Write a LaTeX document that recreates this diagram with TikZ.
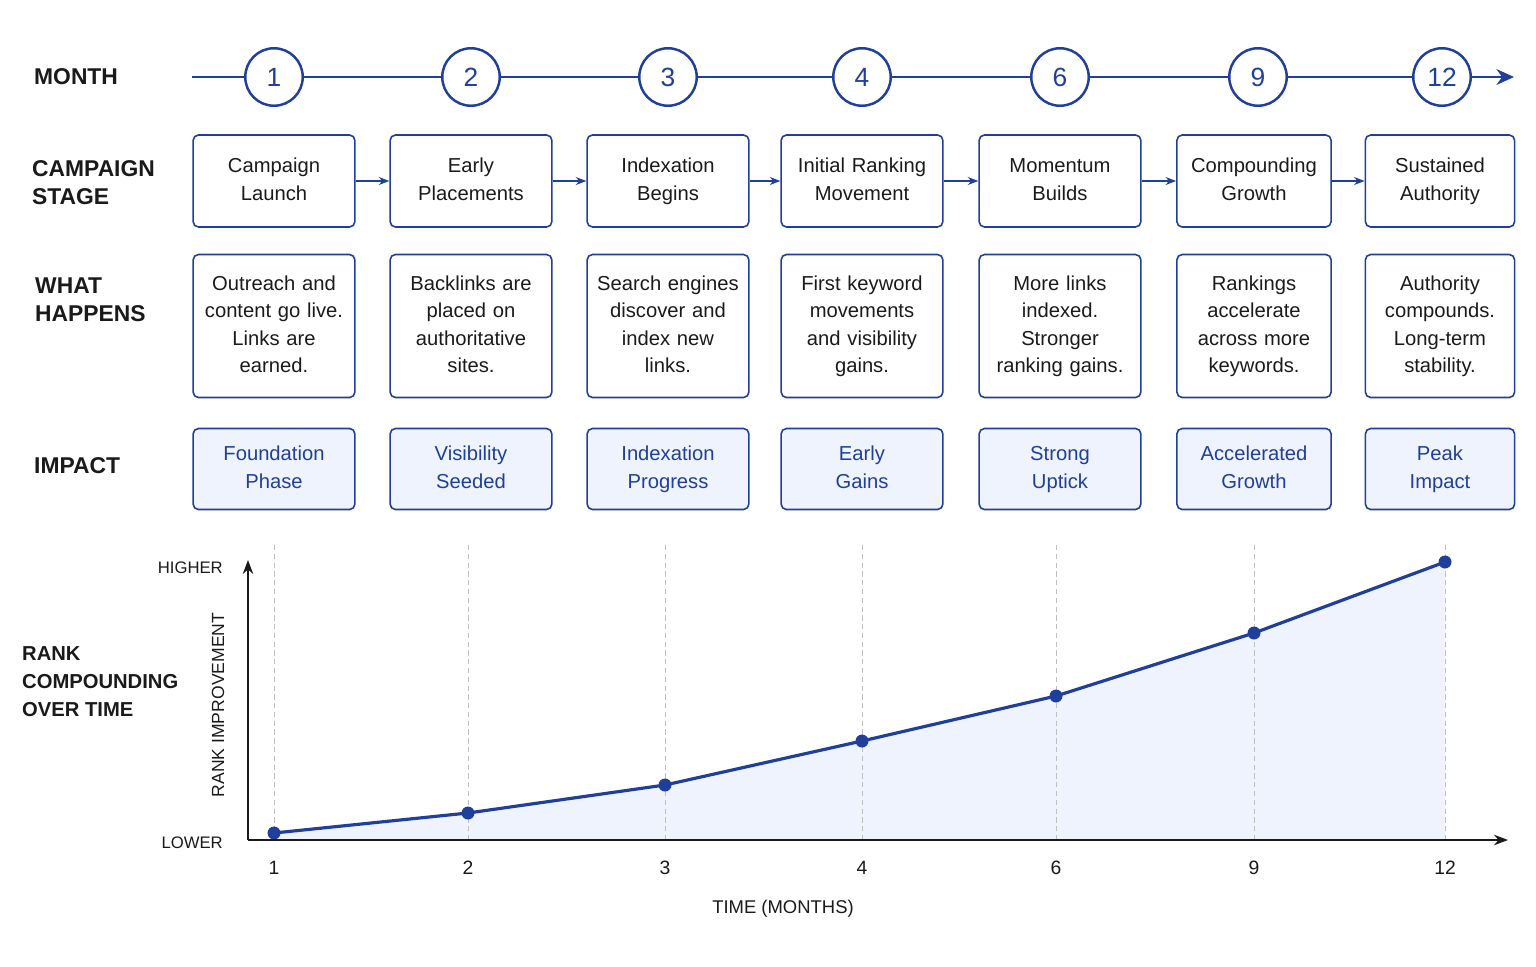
\documentclass[tikz,border=0pt]{standalone}
\usepackage{fontspec}
\setmainfont{Liberation Sans}
\usetikzlibrary{positioning,arrows.meta}
\definecolor{navy}{HTML}{1F3F9A}
\definecolor{pale}{HTML}{EEF3FD}
\definecolor{ink}{HTML}{1A1A1A}
\tikzset
{
    rowhead/.style = {anchor=west, align=left, font=\fontsize{13}{16}\selectfont\bfseries, text=ink},
    monthnode/.style = {circle, draw=navy, line width=1.4pt, fill=white, minimum size=1.15cm, font=\fontsize{15}{16}\selectfont, text=navy},
    stagebox/.style = {rectangle, rounded corners=3pt, draw=navy, line width=0.9pt, align=center, minimum height=1.84cm, text width=3cm, font=\fontsize{11.5}{15.5}\selectfont, text=ink, execute at begin node=\strut, execute at end node=\strut},
    eventbox/.style = {stagebox, minimum height=2.86cm},
    impactbox/.style = {stagebox, fill=pale, minimum height=1.62cm, text=navy},
    arrow/.style = {-{Stealth[length=6pt]}, line width=0.9pt, draw=navy},
    guide/.style = {densely dashed, draw=gray!50, line width=0.4pt},
    tick/.style = {font=\fontsize{11}{13}\selectfont, text=ink}
}
\begin{document}
\begin{tikzpicture}[x=0.02cm, y=-0.02cm]
	\useasboundingbox (0,0) rectangle (1536,967);
	% row headings
	\node (hmonth) [rowhead] at (28,77) {MONTH};
	\node (hstage) [rowhead] at (26,183) {CAMPAIGN\\STAGE};
	\node (hwhat) [rowhead] at (29,300) {WHAT\\HAPPENS};
	\node (himpact) [rowhead] at (28,466) {IMPACT};
	\node (hrank) [rowhead, font=\fontsize{11.5}{16}\selectfont\bfseries] at (16,682) {RANK\\COMPOUNDING\\OVER TIME};

	% timeline
	\coordinate (tl0) at (192,77);
	\coordinate (tl1) at (1514,77);
	\draw [-{Stealth[length=10pt,width=9pt]}, navy, line width=1.4pt] (tl0) -- (tl1);
	\foreach \i/\m/\x in {1/1/274, 2/2/471, 3/3/668, 4/4/862, 5/6/1060, 6/9/1258, 7/12/1442}
		\node (m\i) [monthnode] at (\x,77) {\m};

	% stages
	\node (s1) [stagebox] at (274,181) {Campaign\\Launch};
	\node (s2) [stagebox] at (471,181) {Early\\Placements};
	\node (s3) [stagebox] at (668,181) {Indexation\\Begins};
	\node (s4) [stagebox] at (862,181) {Initial Ranking\\Movement};
	\node (s5) [stagebox] at (1060,181) {Momentum\\Builds};
	\node (s6) [stagebox, text width=2.85cm] at (1254,181) {Compounding\\Growth};
	\node (s7) [stagebox, text width=2.75cm] at (1440,181) {Sustained\\Authority};
	\foreach \a/\b in {s1/s2, s2/s3, s3/s4, s4/s5, s5/s6, s6/s7}
		\draw [arrow] (\a) -- (\b);

	% events
	\node (e1) [eventbox] at (274,326) {Outreach and\\content go live.\\Links are\\earned.};
	\node (e2) [eventbox] at (471,326) {Backlinks are\\placed on\\authoritative\\sites.};
	\node (e3) [eventbox] at (668,326) {Search engines\\discover and\\index new\\links.};
	\node (e4) [eventbox] at (862,326) {First keyword\\movements\\and visibility\\gains.};
	\node (e5) [eventbox] at (1060,326) {More links\\indexed.\\Stronger\\ranking gains.};
	\node (e6) [eventbox, text width=2.85cm] at (1254,326) {Rankings\\accelerate\\across more\\keywords.};
	\node (e7) [eventbox, text width=2.75cm] at (1440,326) {Authority\\compounds.\\Long-term\\stability.};

	% impact
	\node (i1) [impactbox] at (274,469) {Foundation\\Phase};
	\node (i2) [impactbox] at (471,469) {Visibility\\Seeded};
	\node (i3) [impactbox] at (668,469) {Indexation\\Progress};
	\node (i4) [impactbox] at (862,469) {Early\\Gains};
	\node (i5) [impactbox] at (1060,469) {Strong\\Uptick};
	\node (i6) [impactbox, text width=2.85cm] at (1254,469) {Accelerated\\Growth};
	\node (i7) [impactbox, text width=2.75cm] at (1440,469) {Peak\\Impact};

	% chart
	\coordinate (origin) at (248,840);
	\coordinate (ytop) at (248,560);
	\coordinate (xend) at (1508,840);
	\fill [pale] (274,840) -- (274,833) -- (468,813) -- (665,785) -- (862,741) -- (1056,696) -- (1254,633) -- (1445,562) -- (1445,840) -- cycle;
	\foreach \i/\m/\x/\y in {1/1/274/833, 2/2/468/813, 3/3/665/785, 4/4/862/741, 5/6/1056/696, 6/9/1254/633, 7/12/1445/562}
	{
		\coordinate (g\i) at (\x,545);
		\coordinate (b\i) at (\x,840);
		\draw [guide] (g\i) -- (b\i);
		\node (p\i) [circle, fill=navy, inner sep=0pt, minimum size=0.26cm] at (\x,\y) {};
		\node (t\i) [tick] at (\x,868) {\m};
	}
	\draw [navy, line width=1.8pt] (p1.center) -- (p2.center) -- (p3.center) -- (p4.center) -- (p5.center) -- (p6.center) -- (p7.center);
	\draw [-{Stealth[length=8pt]}, line width=1pt, ink] (origin) -- (ytop);
	\draw [-{Stealth[length=8pt]}, line width=1pt, ink] (origin) -- (xend);
	\node (higher) [tick, anchor=east, font=\fontsize{9.5}{11}\selectfont] at (229,568) {HIGHER};
	\node (lower) [tick, anchor=east, font=\fontsize{9.5}{11}\selectfont] at (229,843) {LOWER};
	\node (ylabel) [tick, rotate=90, font=\fontsize{10}{12}\selectfont] at (218,705) {RANK IMPROVEMENT};
	\node (xlabel) [tick, font=\fontsize{10.5}{12}\selectfont] at (783,909) {TIME (MONTHS)};
\end{tikzpicture}
\end{document}
